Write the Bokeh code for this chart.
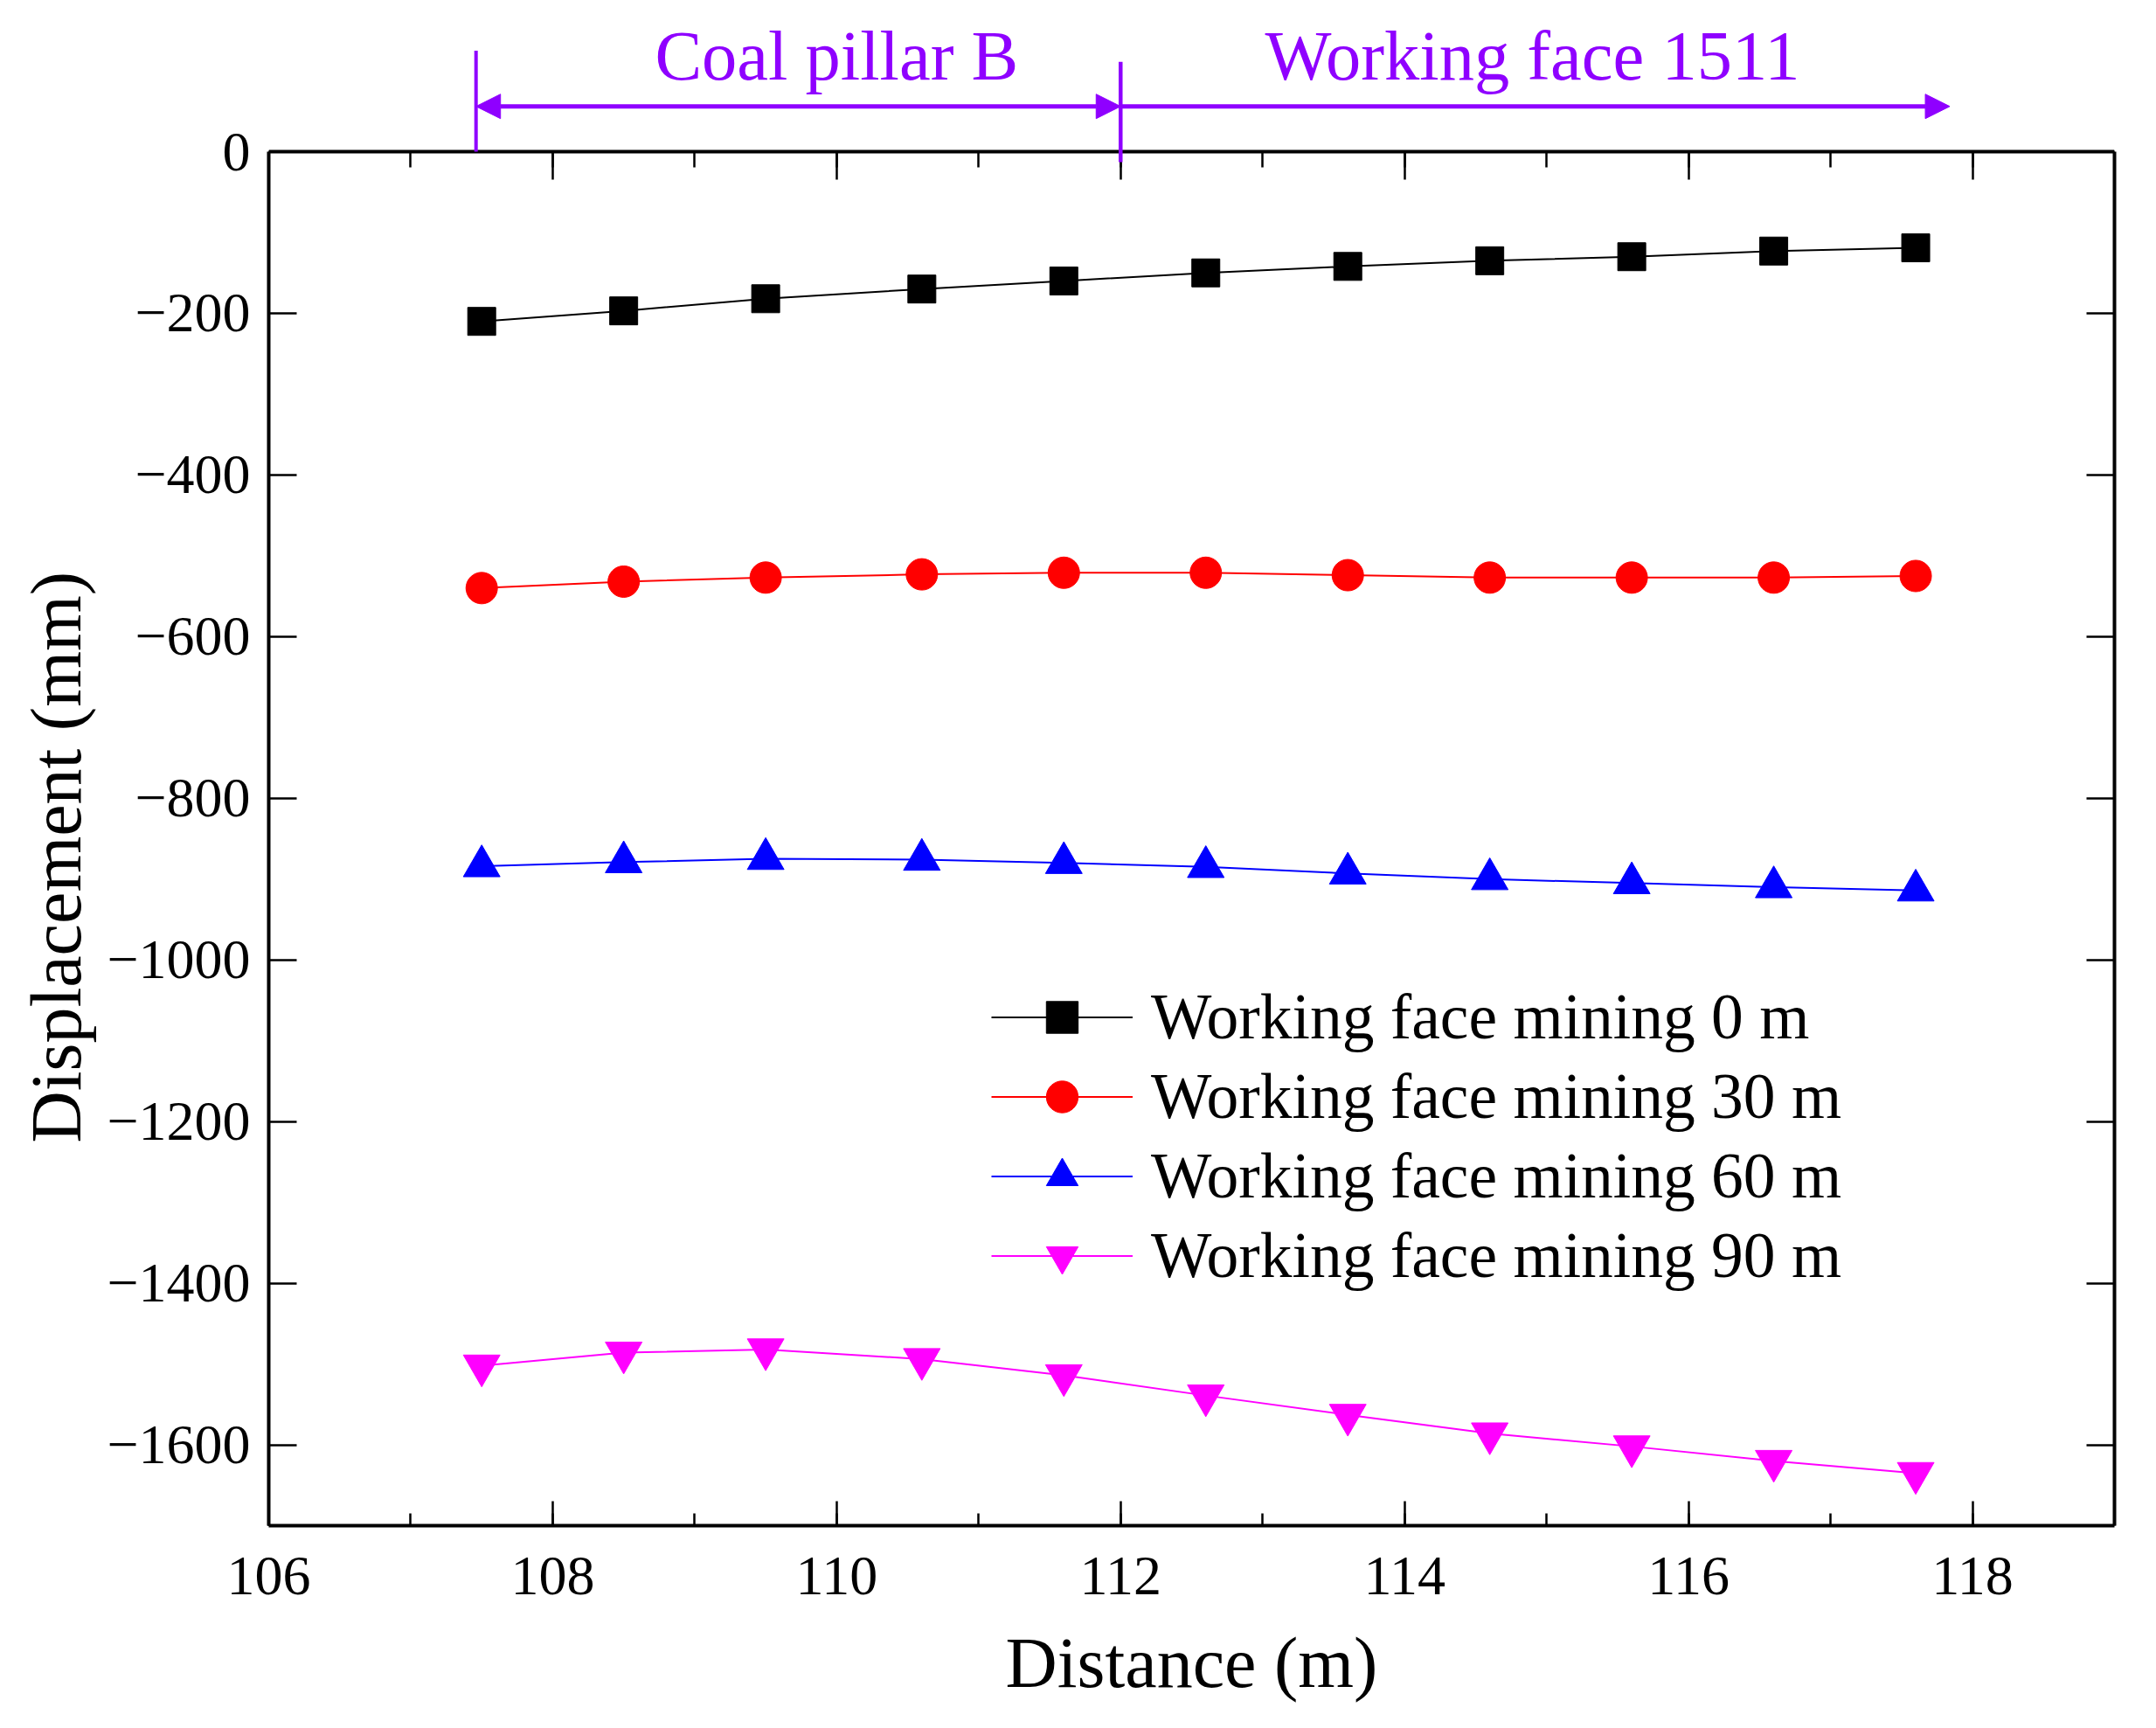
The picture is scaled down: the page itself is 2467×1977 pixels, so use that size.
from bokeh.plotting import figure
from bokeh.models import (Range1d, LinearAxis, SingleIntervalTicker, CustomJSTickFormatter,
                          Legend, LegendItem, Arrow, NormalHead, Label, Title)
from bokeh.embed import file_html
from bokeh.resources import INLINE

# ---------------- data ----------------
distance = [107.5, 108.5, 109.5, 110.6, 111.6, 112.6, 113.6, 114.6, 115.6, 116.6, 117.6]
mining_0 = [-210, -197, -182, -170, -160, -150, -142, -135, -130, -123, -119]
mining_30 = [-540, -532, -527, -523, -521, -521, -524, -527, -527, -527, -525]
mining_60 = [-884, -879, -875, -876, -880, -885, -893, -900, -905, -910, -914]
mining_90 = [-1502, -1486, -1482, -1494, -1514, -1539, -1563, -1586, -1602, -1620, -1635]
series_labels = ["Working face mining 0 m", "Working face mining 30 m",
                 "Working face mining 60 m", "Working face mining 90 m"]

x_limits = (106, 119)
y_limits = (-1700, 0)

region_bounds = [107.46, 112.0, 117.84]
region_names = ["Coal pillar B", "Working face 1511"]
region_label_x = [110.0, 114.9]

FONT = "Liberation Serif"
PURPLE = "#8F00FF"

# layout geometry (canvas pixels)
W, H = 2450, 1973
BORDER_LEFT, BORDER_RIGHT = 307, 31
BORDER_TOP = 23
ZERO_PX = 173            # canvas y of the y = 0 line (top of the data box)
BORDER_BOTTOM = H - 1745
px_per_unit = (H - BORDER_BOTTOM - ZERO_PX) / (y_limits[1] - y_limits[0])
y_top = y_limits[1] + (ZERO_PX - BORDER_TOP) / px_per_unit

p = figure(width=W, height=H,
           x_range=Range1d(*x_limits), y_range=Range1d(y_limits[0], y_top),
           output_backend="svg", toolbar_location=None,
           min_border_left=BORDER_LEFT, min_border_right=BORDER_RIGHT,
           min_border_top=BORDER_TOP, min_border_bottom=BORDER_BOTTOM)
p.xgrid.visible = False
p.ygrid.visible = False
p.outline_line_color = None
p.background_fill_color = "white"

bottom_ax = p.below[0]
left_ax = p.left[0]

minus_fmt = CustomJSTickFormatter(code="return tick < 0 ? '\\u2212' + Math.abs(tick) : String(tick);")
blank_fmt = CustomJSTickFormatter(code="return '';")

bottom_ax.ticker = SingleIntervalTicker(interval=2, num_minor_ticks=2)
left_ax.ticker = SingleIntervalTicker(interval=200, num_minor_ticks=0)
left_ax.formatter = minus_fmt
left_ax.bounds = y_limits
bottom_ax.axis_label = "Distance (m)"

top_ax = LinearAxis(ticker=SingleIntervalTicker(interval=2, num_minor_ticks=2),
                    formatter=blank_fmt, fixed_location=y_limits[1])
right_ax = LinearAxis(ticker=SingleIntervalTicker(interval=200, num_minor_ticks=0),
                      formatter=blank_fmt, bounds=y_limits)
p.add_layout(top_ax, "above")
p.add_layout(right_ax, "right")

for ax in [bottom_ax, left_ax, top_ax, right_ax]:
    ax.axis_line_width = 4
    ax.axis_line_color = "black"
    ax.major_tick_in = 32
    ax.major_tick_out = 0
    ax.minor_tick_in = 18
    ax.minor_tick_out = 0
    ax.major_tick_line_width = 2.5
    ax.minor_tick_line_width = 2.5
    ax.major_tick_line_color = "black"
    ax.minor_tick_line_color = "black"
    ax.major_label_text_font = FONT
    ax.major_label_text_color = "black"
    ax.axis_label_text_font = FONT
    ax.axis_label_text_font_style = "normal"
    ax.axis_label_text_color = "black"

bottom_ax.major_tick_in = 28
bottom_ax.minor_tick_in = 14

for ax in [top_ax, right_ax]:
    ax.major_label_text_font_size = "1px"
    ax.major_label_standoff = 0

bottom_ax.major_label_text_font_size = "64px"
left_ax.major_label_text_font_size = "64px"
bottom_ax.axis_label_text_font_size = "82px"
bottom_ax.major_label_standoff = 36
left_ax.major_label_standoff = 21
bottom_ax.axis_label_standoff = 30

# y-axis title, placed along the left side like the reference
p.add_layout(Title(text="Displacement (mm)", align="left", offset=438,
                   vertical_align="top", standoff=15,
                   text_font=FONT, text_font_size="82px", text_font_style="normal",
                   text_color="black"), "left")

series = [
    (mining_0, "black", "square", 32),
    (mining_30, "red", "circle", 36),
    (mining_60, "blue", "triangle", 42),
    (mining_90, "magenta", "inverted_triangle", 42),
]
items = []
for (vals, color, marker, size), lab in zip(series, series_labels):
    lr = p.line(distance, vals, line_color=color, line_width=2)
    sr = p.scatter(distance, vals, marker=marker, size=size, fill_color=color, line_color=color)
    items.append(LegendItem(label=lab, renderers=[lr, sr]))

legend = Legend(items=items, location=(827, 263),
                border_line_color=None, background_fill_alpha=0,
                label_text_font=FONT, label_text_font_size="73.5px", label_text_color="black",
                glyph_width=162, glyph_height=91, label_height=91,
                spacing=0, padding=0, margin=0, label_standoff=21)
p.add_layout(legend)

# ---------------- region annotations above the data box ----------------
arrow_y = 56
p.add_layout(Arrow(x_start=region_bounds[0], y_start=125, x_end=region_bounds[0], y_end=0,
                   start=None, end=None, line_color=PURPLE, line_width=4))
p.add_layout(Arrow(x_start=region_bounds[1], y_start=111, x_end=region_bounds[1], y_end=-13,
                   start=None, end=None, line_color=PURPLE, line_width=4.5))
p.add_layout(Arrow(x_start=region_bounds[0], y_start=arrow_y, x_end=region_bounds[1], y_end=arrow_y,
                   start=NormalHead(size=28, fill_color=PURPLE, line_color=PURPLE),
                   end=NormalHead(size=28, fill_color=PURPLE, line_color=PURPLE),
                   line_color=PURPLE, line_width=5))
p.add_layout(Arrow(x_start=region_bounds[1], y_start=arrow_y, x_end=region_bounds[2], y_end=arrow_y,
                   start=None,
                   end=NormalHead(size=28, fill_color=PURPLE, line_color=PURPLE),
                   line_color=PURPLE, line_width=5))
for name, lx in zip(region_names, region_label_x):
    p.add_layout(Label(x=lx, y=119, text=name, text_align="center", text_baseline="alphabetic",
                       text_font=FONT, text_font_size="80.5px", text_color=PURPLE))

open("out.html", "w").write(file_html(p, INLINE))
